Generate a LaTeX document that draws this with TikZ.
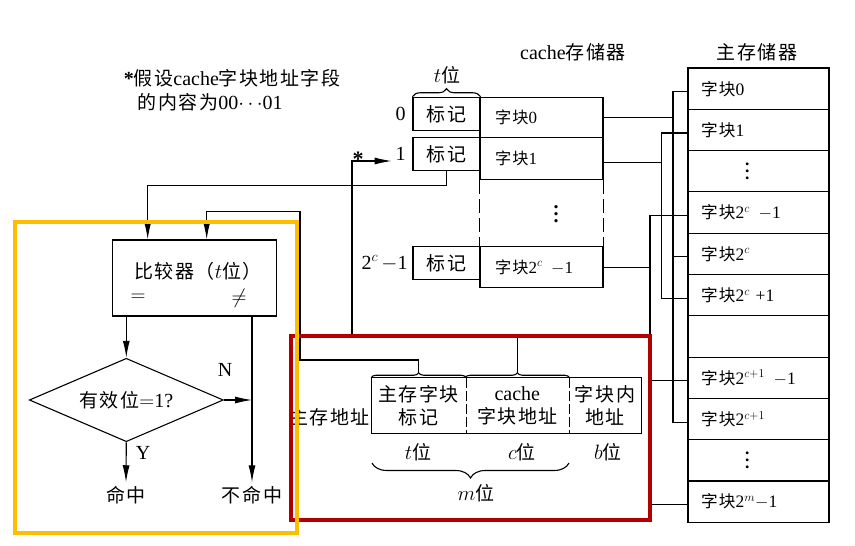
\documentclass[tikz,border=0pt]{standalone}
\usepackage{fontspec}
\setmainfont{Liberation Serif}
\newfontfamily\cjk[Scale=0.95,LetterSpace=8]{Noto Sans CJK SC}
\usetikzlibrary{arrows.meta,shapes.geometric,decorations.pathreplacing}

\definecolor{boxred}{RGB}{178,0,0}
\definecolor{boxyellow}{RGB}{252,190,0}
\newcommand{\zk}{{\cjk 字块}}
\newcommand{\wei}{{\cjk 位}}
\newcommand{\vdts}{{\bfseries\vbox{\baselineskip=7pt\lineskiplimit=0pt
  \hbox{.}\hbox{.}\hbox{.}}}}

\begin{document}
\begin{tikzpicture}[
  % one unit is one pixel of the original figure, y runs downward
  x=1pt, y=-1pt,
  line width=1.1pt,
  font=\fontsize{20}{23}\selectfont,
  >={Latex[length=17pt,width=7pt]},
  memblk/.style={draw, font=\fontsize{17.5}{19}\selectfont, text width=115pt,
    inner xsep=13pt, inner ysep=0pt, minimum height=41.3pt, align=left},
  cacheblk/.style={draw, font=\fontsize{17}{19}\selectfont, text width=93pt,
    inner xsep=15pt, inner ysep=0pt, align=left},
  tagbox/.style={draw, minimum width=67pt, minimum height=33pt, inner sep=0pt},
  field/.style={minimum height=54.4pt, inner sep=0pt, align=center},
  bracket/.style={decorate, decoration={brace, amplitude=#1}},
  hilite/.style={line width=4pt, draw=#1}
]
\useasboundingbox (0,0) rectangle (855,546);

% 1) Main memory column, eleven rows of 41.3 units
\foreach \i/\txt in {0/{\zk0}, 1/{\zk1}, 2/{\hspace*{44pt}\vdts},
    3/{\zk2$^c$\ \,$-$1}, 4/{\zk2$^c$}, 5/{\zk2$^c$\ +1}, 6/{},
    7/{\zk2$^{c+1}$\ \,$-$1}, 8/{\zk2$^{c+1}$}, 9/{\hspace*{44pt}\vdts},
    10/{\zk2$^m$$-$1}}
{
  \node[memblk] (mm\i) at (758.5, {88.65+41.3*\i}) {\txt};
  \coordinate (p\i) at ([yshift=-3pt]mm\i.west);
}
\node (mtitle) at (757,52) {\cjk 主存储器};

% 2) Cache: data blocks and tag boxes
\node[cacheblk, minimum height=40.4pt] (cb0) at (541.5,117.5) {\zk0};
\node[cacheblk, minimum height=41.6pt] (cb1) at (541.5,158.5) {\zk1};
\node[cacheblk, minimum height=40.8pt] (cbn) at (541.5,267.1) {\zk2$^c$\ \,$-$1};
\draw[dash pattern=on 14pt off 5pt] (cb1.south west) -- (cbn.north west)
  (cb1.south east) -- (cbn.north east);
\node (cdots) at (556,214) {\vdts};
\node (ctitle) at (573,52) {cache{\cjk 存储器}};

\node[tagbox] (tag0) at (446.5,113.8) {\cjk 标记};
\node[tagbox] (tag1) at (446.5,154) {\cjk 标记};
\node[tagbox] (tagn) at (446.5,263.2) {\cjk 标记};
\node[anchor=east] (idx0) at ([xshift=-3pt]tag0.west) {0};
\node[anchor=east] (idx1) at ([xshift=-3pt]tag1.west) {1};
\node[anchor=east] (idxn) at ([xshift=-1pt]tagn.west) {2$^c$\,$-$1};
\draw[bracket=8pt] (tag0.north west) -- (tag0.north east);
\node (tagbits) at (447,75) {$t$\wei};

% note at top left
\node[anchor=west] (note1) at (120,78) {{\bfseries *}{\cjk 假设}cache{\cjk 字块地址字段}};
\node[anchor=west] (note2) at (134,102) {{\cjk 的内容为}00$\cdots$01};

% 3) Cache rows to main memory blocks (direct mapping)
\coordinate (busA) at (673,0);
\coordinate (busB) at (661.7,0);
\coordinate (busC) at (650,0);
\draw (cb0.east) -| (p0 -| busA) -- (p0)
  (p0 -| busA) |- (p4)
  (p4 -| busA) |- (p8);
\draw ([yshift=-4pt]cb1.east) -| (p1 -| busB) -- (p1)
  (p1 -| busB) |- (p5);
\draw (cbn.east) -| (p3 -| busC) -- (p3)
  (p3 -| busC) |- (p7)
  (p7 -| busC) |- (p10);

% 4) Main memory address
\node[field, minimum width=94pt] (fldt) at (418.7,405.5) {{\cjk 主存字块}\\{\cjk 标记}};
\node[field, minimum width=103.3pt] (fldc) at (517.35,405.5) {cache\\{\cjk 字块地址}};
\node[field, minimum width=72pt] (fldb) at (605,405.5) {{\cjk 字块内}\\{\cjk 地址}};
\draw (fldt.north west) rectangle (fldb.south east);
\draw[dash pattern=on 10pt off 3pt] (fldt.north east) -- (fldt.south east)
  (fldc.north east) -- (fldc.south east);
\node[anchor=east, inner sep=1pt] (maddr) at ([yshift=-12pt]fldt.west) {\cjk 主存地址};
\draw[bracket=5pt] (fldt.north west) -- (fldt.north east);
\draw[bracket=5pt] (fldc.north west) -- (fldc.north east);
\coordinate (ttip) at ([yshift=5pt]fldt.north);
\coordinate (ctip) at ([yshift=5pt]fldc.north);
\node (tbits) at (418,452) {$t$\wei};
\node (cbits) at (522,452) {$c$\wei};
\node (bbits) at (608,452) {$b$\wei};
\draw[bracket=15pt] (569,463) -- (372,463);
\node (mbits) at (476,493) {$m$\wei};

% 5) Comparator and valid-bit test
\node[draw, minimum width=164.4pt, minimum height=76pt] (cmp) at (194.5,278) {};
\node (cmptxt) at (198,271) {{\cjk 比较器（}$t${\cjk 位）}};
\node (eq) at (138,298) {$=$};
\node (neq) at (239,298) {$\neq$};
\node[draw, diamond, aspect=2.33, minimum width=194pt, minimum height=83.4pt,
  inner sep=0pt] (valid) at (126.3,400) {{\cjk 有效位}$=$1?};
\node (hit) at (126,495) {\cjk 命中};
\node (miss) at (252,495) {\cjk 不命中};
\node (nlbl) at (225,370) {N};
\node (ylbl) at (143,453) {Y};

\draw[->] (cmp.south -| valid.north) -- (valid.north);
\draw[->] (cmp.south -| miss.north) -- (miss.north);
\draw[->] (valid.east) -- (valid.east -| miss.north);
\draw[->] (valid.south) -- (hit.north);

% 6) Inputs of the comparator and the cache row select
\coordinate (cin1) at (147.7,185.5);
\coordinate (cin2) at (206.7,211.7);
\draw[->] (tag1.south) |- (cin1) -- (cin1 |- cmp.north);
\draw[->] (ttip) |- (300,360) |- (cin2) -- (cin2 |- cmp.north);
\coordinate (sel) at ([yshift=-7pt]idx1.west);
\draw[->] (ctip) |- (352,337) |- (sel);
\node[font=\fontsize{22}{24}\selectfont\bfseries] (star) at (358,159) {*};

% 7) Highlight frames
\draw[hilite=boxred] (291.3,335.7) rectangle (650.3,520);
\draw[hilite=boxyellow] (15.3,222) rectangle (297,532.7);

\end{tikzpicture}
\end{document}
